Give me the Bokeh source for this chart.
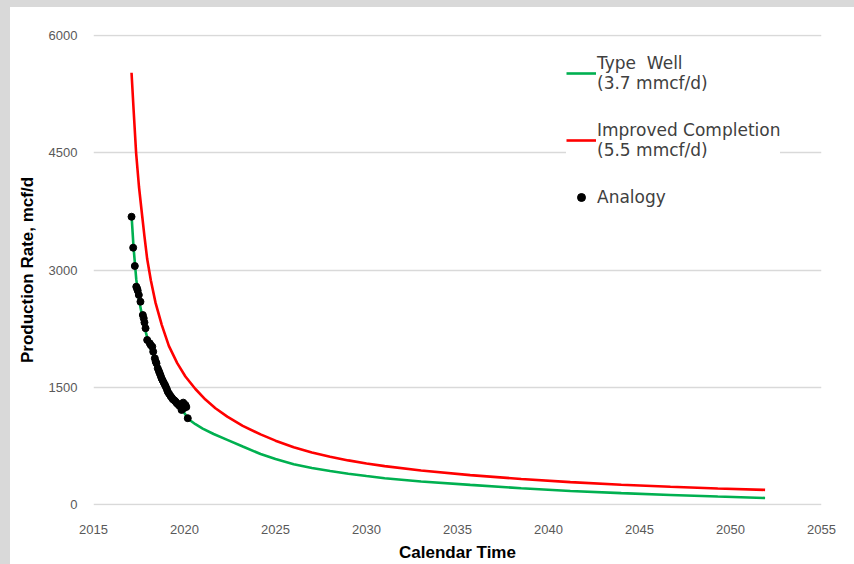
from bokeh.plotting import figure
from bokeh.models import Legend, LegendItem, FixedTicker, Range1d, Spacer
from bokeh.layouts import row, column
from bokeh.embed import file_html
from bokeh.resources import INLINE

# Type Well curve (year, mcf/d)
type_well_year = [2017.09, 2017.2, 2017.35, 2017.5, 2017.7, 2017.9, 2018.1, 2018.3, 2018.5,
                  2018.75, 2019.0, 2019.25, 2019.5, 2019.75, 2020.0, 2020.24, 2020.6, 2021.0,
                  2021.6, 2022.35, 2023.2, 2024.18, 2025.0, 2026.0, 2027.0, 2028.0, 2029.0,
                  2030.0, 2031.0, 2033.0, 2035.7, 2038.5, 2041.2, 2044.0, 2046.7, 2049.3, 2051.9]
type_well_rate = [3700, 3290, 2880, 2620, 2380, 2180, 2020, 1900, 1770,
                  1630, 1510, 1410, 1325, 1250, 1170, 1090, 1030, 975,
                  905, 830, 745, 650, 585, 520, 472, 432, 398,
                  368, 340, 298, 255, 212, 178, 150, 127, 106, 88]

# Improved Completion curve
improved_year = [2017.09, 2017.2, 2017.34, 2017.5, 2017.68, 2017.8, 2017.95, 2018.15, 2018.41,
                 2018.75, 2019.14, 2019.6, 2020.05, 2020.6, 2021.15, 2021.7, 2022.35, 2023.2,
                 2024.18, 2025.0, 2026.0, 2027.0, 2028.0, 2029.0, 2030.0, 2031.0, 2033.0,
                 2035.7, 2038.5, 2041.2, 2044.0, 2046.7, 2049.3, 2051.9]
improved_rate = [5520, 5060, 4500, 4060, 3680, 3430, 3140, 2870, 2580,
                 2300, 2030, 1810, 1640, 1480, 1345, 1235, 1127, 1010,
                 900, 820, 735, 670, 615, 568, 528, 495, 440,
                 380, 330, 290, 258, 232, 210, 191]

# Analogy wells (actual data points)
analogy_year = [2017.09, 2017.18, 2017.27, 2017.35, 2017.40, 2017.43, 2017.49, 2017.58, 2017.71,
                2017.76, 2017.80, 2017.86, 2017.95, 2018.09, 2018.15, 2018.23, 2018.28, 2018.37,
                2018.42, 2018.46, 2018.53, 2018.59, 2018.64, 2018.69, 2018.74, 2018.80, 2018.86,
                2018.92, 2018.97, 2019.03, 2019.08, 2019.15, 2019.23, 2019.30, 2019.36, 2019.44,
                2019.51, 2019.57, 2019.63, 2019.70, 2019.78, 2019.84, 2019.93, 2019.96, 2020.05,
                2020.10, 2020.18]
analogy_rate = [3680, 3285, 3051, 2787, 2760, 2736, 2681, 2595, 2425,
                2383, 2330, 2256, 2106, 2064, 2040, 2021, 1957, 1872,
                1830, 1808, 1745, 1710, 1681, 1650, 1617, 1590, 1561,
                1535, 1510, 1478, 1446, 1420, 1391, 1370, 1349, 1335,
                1319, 1300, 1289, 1270, 1255, 1213, 1306, 1234, 1277,
                1250, 1107]

x_ticks = [2015, 2020, 2025, 2030, 2035, 2040, 2045, 2050, 2055]
y_ticks = [0, 1500, 3000, 4500, 6000]

p = figure(width=844, height=557, output_backend="svg", toolbar_location=None,
           x_range=Range1d(2015, 2055), y_range=Range1d(-8, 6008),
           min_border_left=83, min_border_right=33, min_border_top=27, min_border_bottom=58)
p.outline_line_color = None
p.background_fill_color = "white"
p.border_fill_color = "white"

for ax in (p.xaxis[0], p.yaxis[0]):
    ax.axis_line_color = None
    ax.major_tick_line_color = None
    ax.minor_tick_line_color = None
    ax.major_label_text_font = "Liberation Sans"
    ax.major_label_text_font_size = "13px"
    ax.major_label_text_color = "#595959"
    ax.axis_label_text_font = "Liberation Sans"
    ax.axis_label_text_font_style = "bold"
    ax.axis_label_text_font_size = "17px"
    ax.axis_label_text_color = "#000000"

p.xaxis.ticker = FixedTicker(ticks=x_ticks)
p.yaxis.ticker = FixedTicker(ticks=y_ticks)
p.xaxis.axis_label = "Calendar Time"
p.yaxis.axis_label = "Production Rate, mcf/d"
p.xaxis.major_label_standoff = 13
p.xaxis.axis_label_standoff = 6
p.yaxis.major_label_standoff = 10
p.yaxis.axis_label_standoff = 9

p.xgrid.grid_line_color = None
p.ygrid.grid_line_color = "#d9d9d9"
p.ygrid.grid_line_width = 1.3

r_type = p.line(type_well_year, type_well_rate, line_color="#00b050", line_width=2.6)
r_imp = p.line(improved_year, improved_rate, line_color="#ff0000", line_width=2.6)
r_ana = p.scatter(analogy_year, analogy_rate, size=7, fill_color="black", line_color="black")

legend = Legend(items=[
    LegendItem(label="Type  Well\n(3.7 mmcf/d)", renderers=[r_type]),
    LegendItem(label="Improved Completion\n(5.5 mmcf/d)", renderers=[r_imp]),
    LegendItem(label="Analogy", renderers=[r_ana]),
], location=(473, 298))
legend.background_fill_color = "white"
legend.background_fill_alpha = 1.0
legend.border_line_color = None
legend.label_text_font = "DejaVu Sans"
legend.label_text_font_size = "17px"
legend.label_text_line_height = 1.25
legend.label_text_color = "#404040"
legend.glyph_width = 30
legend.label_standoff = 1
legend.spacing = 27
legend.padding = 12
p.add_layout(legend)

gray = {"background-color": "#d9d9d9"}
root = row(
    Spacer(width=10, height=564, styles=gray),
    column(Spacer(width=844, height=7, styles=gray), p, spacing=0),
    spacing=0,
)

open("out.html", "w").write(file_html(root, INLINE))
